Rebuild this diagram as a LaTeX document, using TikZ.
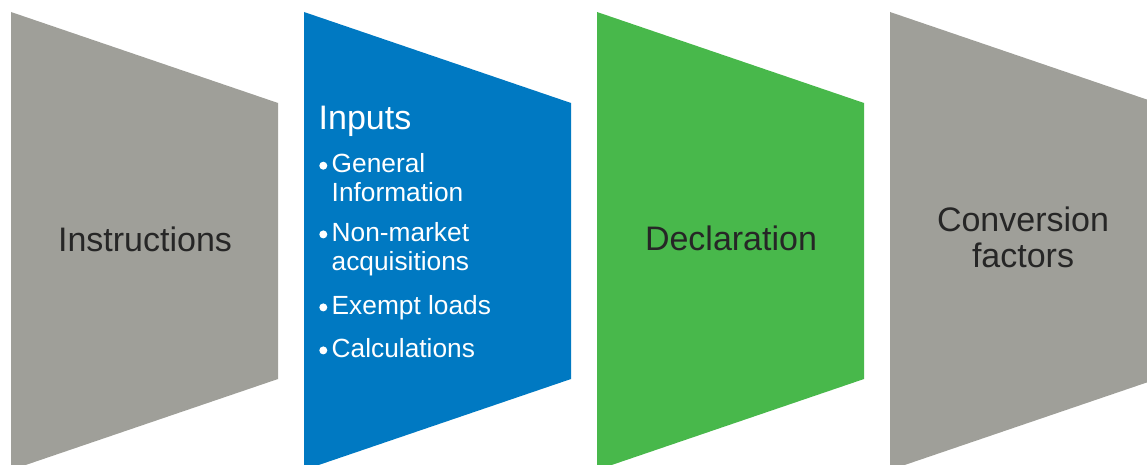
\documentclass[tikz,border=0pt]{standalone}
\usepackage{fontspec}
\setmainfont{Liberation Sans}
\definecolor{grayshape}{HTML}{9F9F99}
\definecolor{blueshape}{HTML}{0079C2}
\definecolor{greenshape}{HTML}{48B84B}
\definecolor{darktext}{HTML}{262626}
\begin{document}
\begin{tikzpicture}[x=1pt,y=-1pt,
  bigtext/.style={inner sep=0pt,anchor=base,text=darktext,font=\fontsize{34}{36}\selectfont},
  itemtext/.style={inner sep=0pt,anchor=base west,text=white,font=\fontsize{26.3}{28}\selectfont},
  bulletdot/.style={circle,fill=white,inner sep=0pt,minimum size=8pt}]
\useasboundingbox (0,0) rectangle (1147,465);
\clip (0,0) rectangle (1147,465);
% trapezoids
\fill[grayshape]  (11,12)  -- (278,103) -- (278,379) -- (11,470)  -- cycle;
\fill[blueshape]  (304,12) -- (571,103) -- (571,379) -- (304,470) -- cycle;
\fill[greenshape] (597,12) -- (864,103) -- (864,379) -- (597,470) -- cycle;
\fill[grayshape]  (890,12) -- (1157,103) -- (1157,379) -- (890,470) -- cycle;
% texts
\node[bigtext] (instr) at (145,251) {Instructions};
\node[bigtext] (decl) at (731,250) {Declaration};
\node[bigtext] (conv1) at (1023,231.5) {Conversion};
\node[bigtext] (conv2) at (1023,267.5) {factors};
\node[inner sep=0pt,anchor=base west,text=white,font=\fontsize{34}{36}\selectfont] (inputs) at (318.5,130) {Inputs};
\node[bulletdot] (b1) at (323.3,165.7) {};
\node[itemtext] (i1a) at (331.5,172.3) {General};
\node[itemtext] (i1b) at (331.5,201) {Information};
\node[bulletdot] (b2) at (323.3,234.4) {};
\node[itemtext] (i2a) at (331.5,241) {Non-market};
\node[itemtext] (i2b) at (331.5,270.5) {acquisitions};
\node[bulletdot] (b3) at (323.3,307.4) {};
\node[itemtext] (i3) at (331.5,314) {Exempt loads};
\node[bulletdot] (b4) at (323.3,350.4) {};
\node[itemtext] (i4) at (331.5,357) {Calculations};
\end{tikzpicture}
\end{document}
